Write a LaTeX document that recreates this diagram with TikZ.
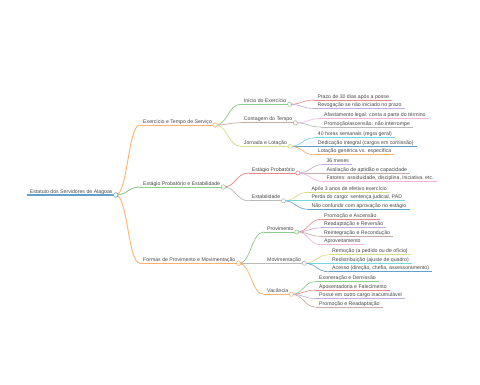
\documentclass[tikz,border=0pt]{standalone}
\usepackage{fontspec}
\setmainfont{Liberation Sans}
\usetikzlibrary{calc}

% category colours, washed out
\definecolor{base0}{HTML}{1F77B4}
\definecolor{base1}{HTML}{FF7F0E}
\definecolor{base2}{HTML}{2CA02C}
\definecolor{base3}{HTML}{D62728}
\definecolor{base4}{HTML}{9467BD}
\definecolor{base5}{HTML}{8C564B}
\definecolor{base6}{HTML}{E377C2}
\definecolor{base7}{HTML}{7F7F7F}
\definecolor{base8}{HTML}{BCBD22}
\definecolor{base9}{HTML}{17BECF}
\colorlet{mm0}{base0!70}
\colorlet{mm1}{base1!60}
\colorlet{mm2}{base2!55}
\colorlet{mm3}{base3!55}
\colorlet{mm4}{base4!55}
\colorlet{mm5}{base5!50}
\colorlet{mm6}{base6!55}
\colorlet{mm7}{base7!55}
\colorlet{mm8}{base8!55}
\colorlet{mm9}{base9!60}

\begin{document}
\begin{tikzpicture}[x=1pt, y=-1pt,
    lbl/.style={anchor=south west, inner xsep=3pt, inner ysep=0.6pt, text height=3.8pt, text depth=1.1pt, font=\fontsize{5.2}{6}\selectfont, text=black!72},
    link/.style={line cap=round, to path={.. controls ($(\tikztostart)!0.5!(\tikztostart -| \tikztotarget)$) and ($(\tikztotarget)!0.5!(\tikztotarget -| \tikztostart)$) .. (\tikztotarget)}},
    knob/.style={draw=#1, fill=white, line width=0.6pt},
    w0/.style={line width=1.2pt},
    w1/.style={line width=0.9pt},
    w2/.style={line width=0.75pt},
    w3/.style={line width=0.65pt}
]
\useasboundingbox (0,0) rectangle (480,384);

% root and first level
\node[lbl] (root) at (26.7,195) {Estatuto dos Servidores de Alagoas};
\node[lbl] (exe) at (140,125) {Exercício e Tempo de Serviço};
\node[lbl] (est) at (140,187) {Estágio Probatório e Estabilidade};
\node[lbl] (for) at (140,263.3) {Formas de Provimento e Movimentação};

% second level
\node[lbl] (ini) at (240.7,104.3) {Início do Exercício};
\node[lbl] (con) at (240.7,122.8) {Contagem do Tempo};
\node[lbl] (jor) at (240.7,146.3) {Jornada e Lotação};
\node[lbl] (pro) at (248.7,173) {Estágio Probatório};
\node[lbl] (stb) at (248.7,200.8) {Estabilidade};
\node[lbl] (prv) at (264,232) {Provimento};
\node[lbl] (mov) at (264,263.3) {Movimentação};
\node[lbl] (vac) at (264,294.3) {Vacância};

% leaves
\node[lbl] (ini1) at (314.3,100) {Prazo de 30 dias após a posse};
\node[lbl] (ini2) at (314.3,108.5) {Revogação se não iniciado no prazo};
\node[lbl] (con1) at (321,118.5) {Afastamento legal: conta a parte do término};
\node[lbl] (con2) at (321,127) {Promoção/ascensão: não interrompe};
\node[lbl] (jor1) at (314.7,137.8) {40 horas semanais (regra geral)};
\node[lbl] (jor2) at (314.7,146.3) {Dedicação integral (cargos em comissão)};
\node[lbl] (jor3) at (314.7,154.8) {Lotação genérica vs. específica};
\node[lbl] (pro1) at (323.3,164.5) {36 meses};
\node[lbl] (pro2) at (323.3,173) {Avaliação de aptidão e capacidade};
\node[lbl] (pro3) at (323.3,181.5) {Fatores: assiduidade, disciplina, iniciativa, etc.};
\node[lbl] (stb1) at (308.3,192.3) {Após 3 anos de efetivo exercício};
\node[lbl] (stb2) at (308.3,200.8) {Perda do cargo: sentença judicial, PAD};
\node[lbl] (stb3) at (308.3,209.3) {Não confundir com aprovação no estágio};
\node[lbl] (prv1) at (321,219.3) {Promoção e Ascensão};
\node[lbl] (prv2) at (321,227.8) {Readaptação e Reversão};
\node[lbl] (prv3) at (321,236.3) {Reintegração e Recondução};
\node[lbl] (prv4) at (321,244.8) {Aproveitamento};
\node[lbl] (mov1) at (329,254.8) {Remoção (a pedido ou de ofício)};
\node[lbl] (mov2) at (329,263.3) {Redistribuição (ajuste de quadro)};
\node[lbl] (mov3) at (329,271.8) {Acesso (direção, chefia, assessoramento)};
\node[lbl] (vac1) at (316,281.5) {Exoneração e Demissão};
\node[lbl] (vac2) at (316,290) {Aposentadoria e Falecimento};
\node[lbl] (vac3) at (316,298.5) {Posse em outro cargo inacumulável};
\node[lbl] (vac4) at (316,307) {Promoção e Readaptação};

% links
\draw[link, w1, mm1] (root.south east) to (exe.south west);
\draw[link, w1, mm2] (root.south east) to (est.south west);
\draw[link, w1, mm1] (root.south east) to (for.south west);
\draw[link, w2, mm2] (exe.south east) to (ini.south west);
\draw[link, w2, mm5] (exe.south east) to (con.south west);
\draw[link, w2, mm8] (exe.south east) to (jor.south west);
\draw[link, w2, mm3] (est.south east) to (pro.south west);
\draw[link, w2, mm7] (est.south east) to (stb.south west);
\draw[link, w2, mm2] (for.south east) to (prv.south west);
\draw[link, w2, mm7] (for.south east) to (mov.south west);
\draw[link, w2, mm1] (for.south east) to (vac.south west);
\draw[link, w3, mm3] (ini.south east) to (ini1.south west);
\draw[link, w3, mm4] (ini.south east) to (ini2.south west);
\draw[link, w3, mm6] (con.south east) to (con1.south west);
\draw[link, w3, mm7] (con.south east) to (con2.south west);
\draw[link, w3, mm9] (jor.south east) to (jor1.south west);
\draw[link, w3, mm0] (jor.south east) to (jor2.south west);
\draw[link, w3, mm1] (jor.south east) to (jor3.south west);
\draw[link, w3, mm4] (pro.south east) to (pro1.south west);
\draw[link, w3, mm5] (pro.south east) to (pro2.south west);
\draw[link, w3, mm6] (pro.south east) to (pro3.south west);
\draw[link, w3, mm8] (stb.south east) to (stb1.south west);
\draw[link, w3, mm9] (stb.south east) to (stb2.south west);
\draw[link, w3, mm0] (stb.south east) to (stb3.south west);
\draw[link, w3, mm3] (prv.south east) to (prv1.south west);
\draw[link, w3, mm4] (prv.south east) to (prv2.south west);
\draw[link, w3, mm5] (prv.south east) to (prv3.south west);
\draw[link, w3, mm6] (prv.south east) to (prv4.south west);
\draw[link, w3, mm8] (mov.south east) to (mov1.south west);
\draw[link, w3, mm9] (mov.south east) to (mov2.south west);
\draw[link, w3, mm0] (mov.south east) to (mov3.south west);
\draw[link, w3, mm2] (vac.south east) to (vac1.south west);
\draw[link, w3, mm3] (vac.south east) to (vac2.south west);
\draw[link, w3, mm4] (vac.south east) to (vac3.south west);
\draw[link, w3, mm5] (vac.south east) to (vac4.south west);

% underlines
\draw[w0, mm0] (root.south west) -- (root.south east);
\draw[w1, mm1] (exe.south west) -- (exe.south east);
\draw[w1, mm2] (est.south west) -- (est.south east);
\draw[w1, mm1] (for.south west) -- (for.south east);
\draw[w2, mm2] (ini.south west) -- (ini.south east);
\draw[w2, mm5] (con.south west) -- (con.south east);
\draw[w2, mm8] (jor.south west) -- (jor.south east);
\draw[w2, mm3] (pro.south west) -- (pro.south east);
\draw[w2, mm7] (stb.south west) -- (stb.south east);
\draw[w2, mm2] (prv.south west) -- (prv.south east);
\draw[w2, mm7] (mov.south west) -- (mov.south east);
\draw[w2, mm1] (vac.south west) -- (vac.south east);
\draw[w3, mm3] (ini1.south west) -- (ini1.south east);
\draw[w3, mm4] (ini2.south west) -- (ini2.south east);
\draw[w3, mm6] (con1.south west) -- (con1.south east);
\draw[w3, mm7] (con2.south west) -- (con2.south east);
\draw[w3, mm9] (jor1.south west) -- (jor1.south east);
\draw[w3, mm0] (jor2.south west) -- (jor2.south east);
\draw[w3, mm1] (jor3.south west) -- (jor3.south east);
\draw[w3, mm4] (pro1.south west) -- (pro1.south east);
\draw[w3, mm5] (pro2.south west) -- (pro2.south east);
\draw[w3, mm6] (pro3.south west) -- (pro3.south east);
\draw[w3, mm8] (stb1.south west) -- (stb1.south east);
\draw[w3, mm9] (stb2.south west) -- (stb2.south east);
\draw[w3, mm0] (stb3.south west) -- (stb3.south east);
\draw[w3, mm3] (prv1.south west) -- (prv1.south east);
\draw[w3, mm4] (prv2.south west) -- (prv2.south east);
\draw[w3, mm5] (prv3.south west) -- (prv3.south east);
\draw[w3, mm6] (prv4.south west) -- (prv4.south east);
\draw[w3, mm8] (mov1.south west) -- (mov1.south east);
\draw[w3, mm9] (mov2.south west) -- (mov2.south east);
\draw[w3, mm0] (mov3.south west) -- (mov3.south east);
\draw[w3, mm2] (vac1.south west) -- (vac1.south east);
\draw[w3, mm3] (vac2.south west) -- (vac2.south east);
\draw[w3, mm4] (vac3.south west) -- (vac3.south east);
\draw[w3, mm5] (vac4.south west) -- (vac4.south east);

% knobs on the branching nodes
\draw[knob=mm0] (root.south east) circle (2.3pt);
\draw[knob=mm1] (exe.south east) circle (2.2pt);
\draw[knob=mm2] (est.south east) circle (2.2pt);
\draw[knob=mm1] (for.south east) circle (2.2pt);
\draw[knob=mm2] (ini.south east) circle (2.1pt);
\draw[knob=mm5] (con.south east) circle (2.1pt);
\draw[knob=mm8] (jor.south east) circle (2.1pt);
\draw[knob=mm3] (pro.south east) circle (2.1pt);
\draw[knob=mm7] (stb.south east) circle (2.1pt);
\draw[knob=mm2] (prv.south east) circle (2.1pt);
\draw[knob=mm7] (mov.south east) circle (2.1pt);
\draw[knob=mm1] (vac.south east) circle (2.1pt);
\end{tikzpicture}
\end{document}
